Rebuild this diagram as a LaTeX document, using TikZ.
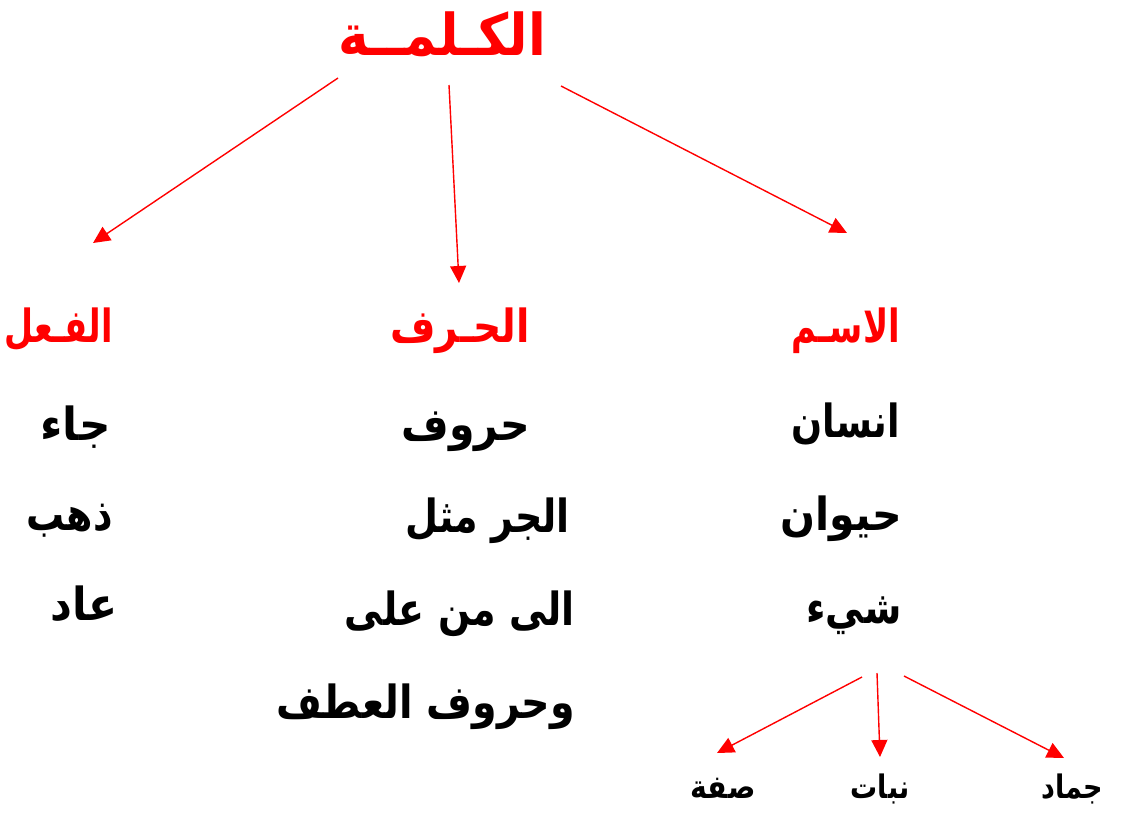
\documentclass[tikz,border=0pt]{standalone}
\usepackage{fontspec}
\usepackage{graphicx}
\usetikzlibrary{arrows.meta}
\TeXXeTstate=1
\newfontfamily\arabicfont[Script=Arabic]{DejaVu Sans}
\definecolor{myred}{RGB}{255,0,0}
\newcommand{\artext}[2][1]{\scalebox{#1}[1.2]{\beginR #2\endR}}
\tikzset{
  ar/.style={font=\arabicfont\bfseries\fontsize{38}{44}\selectfont, inner sep=0pt},
  big/.style={font=\arabicfont\bfseries\fontsize{48}{56}\selectfont, inner sep=0pt},
  sm/.style={font=\arabicfont\bfseries\fontsize{27}{32}\selectfont, inner sep=0pt},
  redtxt/.style={text=myred},
  conn/.style={draw=myred, line width=1.4pt, -{Triangle[length=17pt,width=16pt]}}
}
\begin{document}
\begin{tikzpicture}[x=1pt,y=-1pt]
\useasboundingbox (0,0) rectangle (1126,812);
% title
\node[big, redtxt, anchor=base] (title) at (442,55) {\artext[1.08]{الكـلمــة}};
% headings
\node[ar, redtxt, anchor=base east] (fil) at (113,342) {\artext[0.88]{الفـعل}};
\node[ar, redtxt, anchor=base east] (harf) at (530,342) {\artext[1.03]{الحـرف}};
\node[ar, redtxt, anchor=base east] (ism) at (900,342) {\artext[0.89]{الاسـم}};
% left column
\node[ar, anchor=base east] (f1) at (111,440) {\artext[1.15]{جاء}};
\node[ar, anchor=base east] (f2) at (113,530) {\artext{ذهب}};
\node[ar, anchor=base east] (f3) at (118,620) {\artext[1.12]{عاد}};
% middle column
\node[ar, anchor=base east] (h1) at (530,440) {\artext[1.08]{حروف}};
\node[ar, anchor=base east] (h2) at (570,532) {\artext{الجر مثل}};
\node[ar, anchor=base east] (h3) at (575,625) {\artext{الى من على}};
\node[ar, anchor=base east] (h4) at (575,718) {\artext[1.04]{وحروف العطف}};
% right column
\node[ar, anchor=base east] (i1) at (900,437) {\artext[0.96]{انسان}};
\node[ar, anchor=base east] (i2) at (902,530) {\artext[1.08]{حيوان}};
\node[ar, anchor=base east] (i3) at (902,623) {\artext{شيء}};
% bottom labels
\node[sm, anchor=base] (s1) at (723,798) {\artext[1.05]{صفة}};
\node[sm, anchor=base] (s2) at (880,798) {\artext{نبات}};
\node[sm, anchor=base] (s3) at (1072,798) {\artext{جماد}};
% connector end points
\coordinate (tA) at (338,78);
\coordinate (tB) at (449,85);
\coordinate (tC) at (561,86);
\coordinate (fA) at (93,243);
\coordinate (hB) at (459,283);
\coordinate (iC) at (847,233);
\coordinate (bA) at (862,677);
\coordinate (bB) at (877,673);
\coordinate (bC) at (904,676);
\coordinate (sA) at (717,753);
\coordinate (sB) at (880,757);
\coordinate (sC) at (1064,758);
\draw[conn] (tA) -- (fA);
\draw[conn] (tB) -- (hB);
\draw[conn] (tC) -- (iC);
\draw[conn] (bA) -- (sA);
\draw[conn] (bB) -- (sB);
\draw[conn] (bC) -- (sC);
\end{tikzpicture}
\end{document}
